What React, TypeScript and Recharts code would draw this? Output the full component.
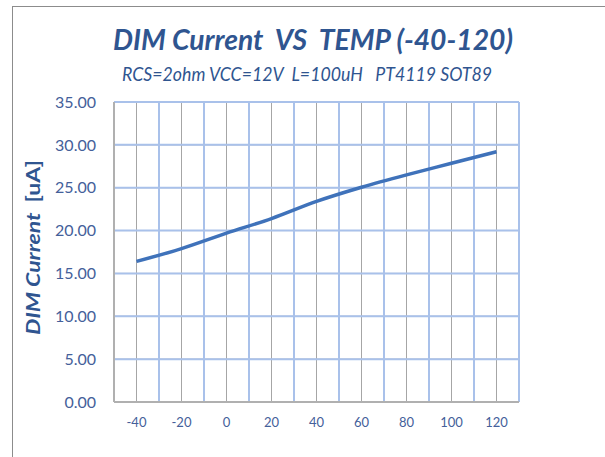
import { LineChart, Line, XAxis, YAxis, CartesianGrid, ReferenceLine } from "recharts"

const temps = [-40, -20, 0, 20, 40, 60, 80, 100, 120]
const dimCurrent = [16.4, 17.9, 19.7, 21.4, 23.4, 25.05, 26.5, 27.85, 29.2]
const cellEdges = [-30, -10, 10, 30, 50, 70, 90, 110, 130]
const yTicks = [0, 5, 10, 15, 20, 25, 30, 35]

const data = temps.map((t, i) => ({ t, v: dimCurrent[i] }))

const BLUE_GRID = "#a9c1ea"
const GRAY_GRID = "#a6a6a6"
const TEXT = "#44609a"
const TITLE = "#2f5590"

export default function App() {
    return (
        <div style={{ position: "absolute", left: 0, top: 0, width: 605, height: 457, background: "#fff", overflow: "hidden" }}>
            <div style={{ position: "absolute", left: 12, top: 6, width: 700, height: 600, borderLeft: "1.5px solid #8c8c8c", borderTop: "1.5px solid #8c8c8c" }} />
            <LineChart
                width={605} height={457} data={data}
                margin={{ top: 102, right: 86, bottom: 25, left: 54 }}
                style={{ position: "absolute", left: 0, top: 0 }}
            >
                <CartesianGrid stroke={GRAY_GRID} strokeWidth={1} />
                {yTicks.slice(1).map((v) => (
                    <ReferenceLine key={v} y={v} stroke={BLUE_GRID} strokeWidth={2} />
                ))}
                {cellEdges.map((e) => (
                    <ReferenceLine key={e} x={e} stroke={BLUE_GRID} strokeWidth={2} />
                ))}
                <XAxis
                    dataKey="t" type="number" domain={[-50, 130]} ticks={temps} height={30}
                    tick={{ fill: TEXT, fontSize: 13, fontFamily: "Lato" }}
                    tickLine={false} axisLine={{ stroke: "#b0b0b0", strokeWidth: 2 }}
                    tickMargin={10} interval={0}
                />
                <YAxis
                    domain={[0, 35]} ticks={yTicks} width={60} interval={0}
                    tickFormatter={(v) => v.toFixed(2)}
                    tick={{ fill: TEXT, fontSize: 16, fontFamily: "Lato" }}
                    tickLine={false} axisLine={{ stroke: "#b0b0b0", strokeWidth: 2 }}
                    tickMargin={12}
                />
                <Line
                    type="monotone" dataKey="v" stroke="#3f72ba" strokeWidth={3.5}
                    dot={false} isAnimationActive={false}
                />
            </LineChart>
            <svg width={605} height={457} style={{ position: "absolute", left: 0, top: 0, pointerEvents: "none" }}>
                <text x={113} y={50} fill={TITLE} fontFamily="Lato" fontWeight="bold" fontStyle="italic" fontSize={29}
                    textLength={400} lengthAdjust="spacingAndGlyphs" style={{ whiteSpace: "pre" }}>
                    DIM Current  VS  TEMP (-40-120)
                </text>
                <text x={122} y={81} fill={TITLE} fontFamily="Lato" fontStyle="italic" fontSize={19}
                    textLength={370} lengthAdjust="spacingAndGlyphs" style={{ whiteSpace: "pre" }}>
                    RCS=2ohm VCC=12V  L=100uH   PT4119 SOT89
                </text>
                <text transform="translate(40,335) rotate(-90)" fill={TITLE} fontFamily="Lato" fontWeight="bold" fontSize={19}
                    textLength={175} lengthAdjust="spacingAndGlyphs" style={{ whiteSpace: "pre" }}>
                    <tspan fontStyle="italic">DIM Current  </tspan>
                    <tspan>[uA]</tspan>
                </text>
            </svg>
        </div>
    )
}
